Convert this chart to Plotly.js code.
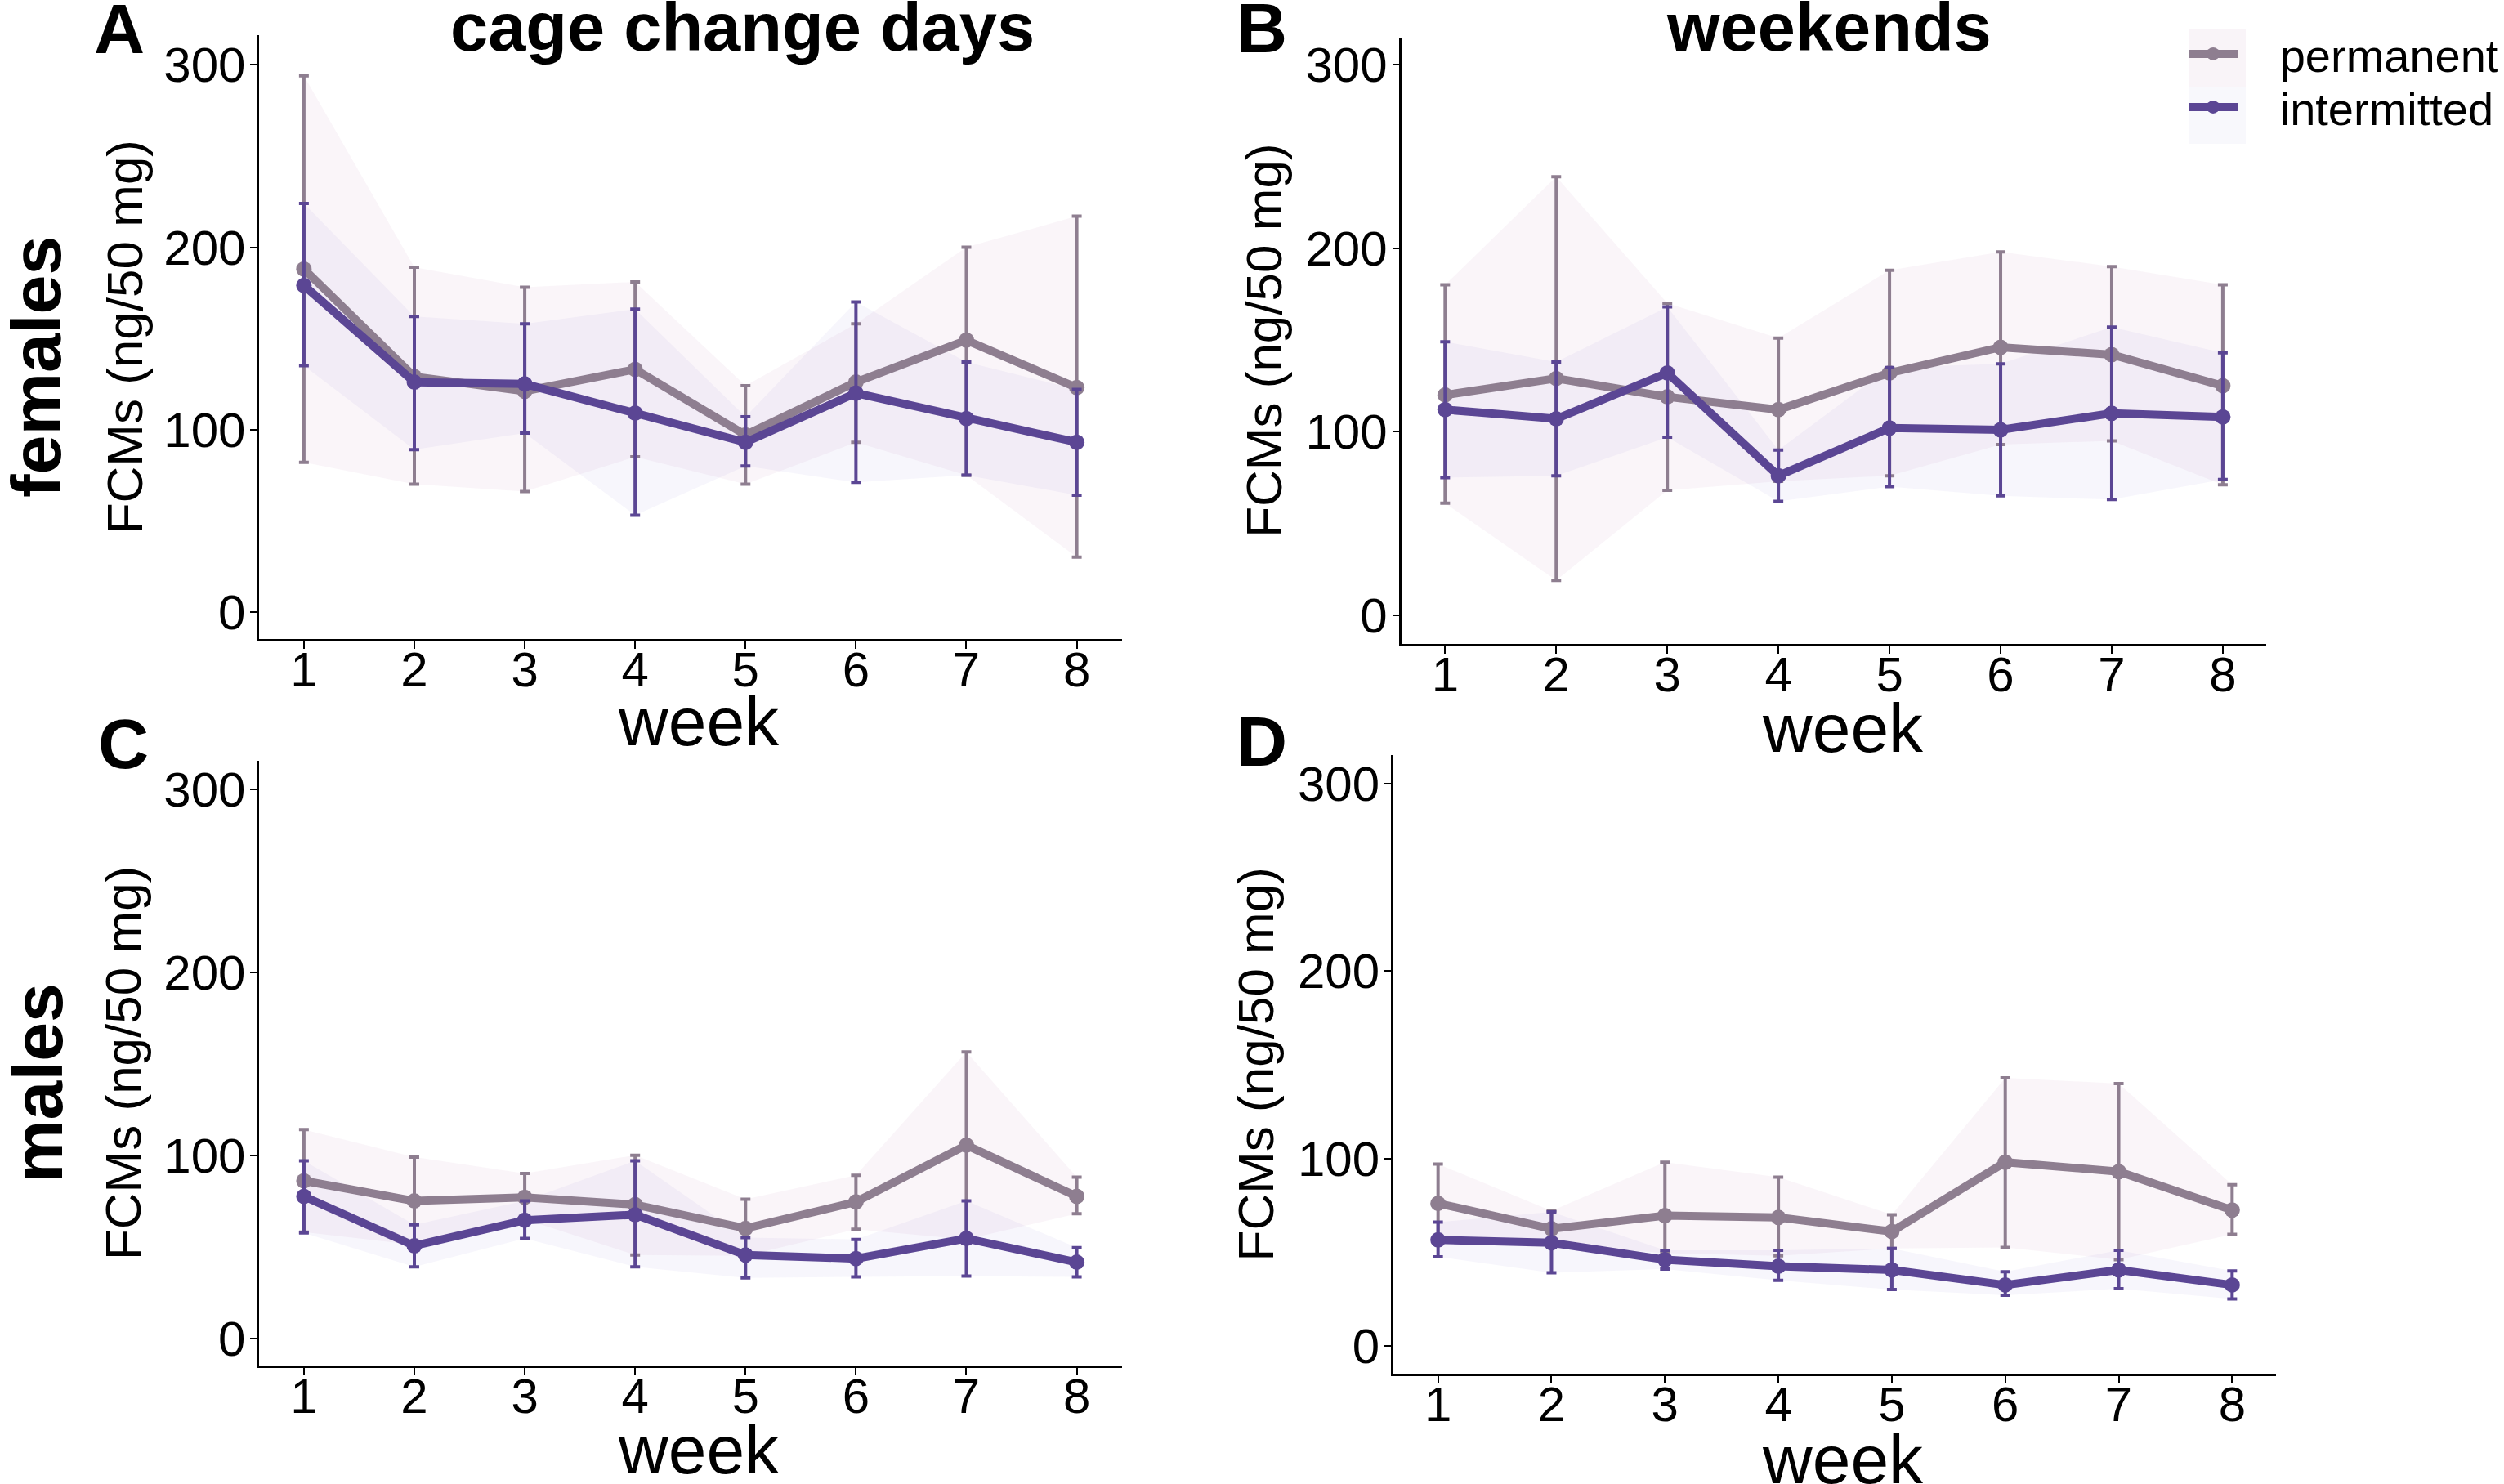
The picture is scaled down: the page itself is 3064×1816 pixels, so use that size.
<!DOCTYPE html>
<html>
<head>
<meta charset="utf-8">
<script src="https://cdn.plot.ly/plotly-3.0.1.min.js"></script>
<style>
  html, body { margin: 0; padding: 0; background: #ffffff; }
  #chart { width: 3064px; height: 1816px; }
</style>
</head>
<body>
<div id="chart"></div>
<script>
// ---------------- data ----------------
const weeks = [1, 2, 3, 4, 5, 6, 7, 8];
const seriesNames = ["permanent", "intermitted"];
const yTickVals = [0, 100, 200, 300];

// A: females, cage change days
const fCagePermMean  = [188, 129, 121, 133, 97, 126, 149, 123];
const fCagePermUpper = [294, 189, 178, 181, 124, 158, 200, 217];
const fCagePermLower = [82, 70, 66, 85, 70, 93, 75, 30];
const fCageIntMean   = [179, 126, 125, 109, 93, 120, 106, 93];
const fCageIntUpper  = [224, 162, 158, 166, 107, 170, 137, 122];
const fCageIntLower  = [135, 89, 98, 53, 80, 71, 75, 64];

// B: females, weekends
const fWkPermMean  = [120, 129, 119, 112, 132, 146, 142, 125];
const fWkPermUpper = [180, 239, 170, 151, 188, 198, 190, 180];
const fWkPermLower = [61, 19, 68, 73, 76, 93, 95, 71];
const fWkIntMean   = [112, 107, 132, 76, 102, 101, 110, 108];
const fWkIntUpper  = [149, 138, 168, 90, 135, 137, 157, 143];
const fWkIntLower  = [75, 76, 97, 62, 70, 65, 63, 74];

// C: males, cage change days
const mCagePermMean  = [86, 75, 77, 73, 60, 74.5, 105.5, 77.5];
const mCagePermUpper = [114, 99, 90, 100, 76, 89, 156.5, 88];
const mCagePermLower = [58, 51, 65, 45.5, 45, 59.5, 54, 68];
const mCageIntMean   = [77.5, 50.5, 64.5, 67.5, 45.5, 43.5, 54.5, 41.5];
const mCageIntUpper  = [97, 62, 75, 97, 55, 54, 75, 49.5];
const mCageIntLower  = [57.5, 39, 54.5, 39, 33, 33.5, 34, 33.5];

// D: males, weekends
const mWkPermMean  = [76, 62.5, 69.5, 68.5, 61, 98, 93, 72.5];
const mWkPermUpper = [97, 72, 98, 90, 70, 143, 140, 86];
const mWkPermLower = [59, 54, 49.5, 48, 52, 52.5, 46, 59.5];
const mWkIntMean   = [56.5, 55, 46, 42.5, 40.5, 32.5, 40.5, 32.5];
const mWkIntUpper  = [66, 71.5, 51, 51, 52, 39.5, 51, 40];
const mWkIntLower  = [47.5, 39, 41, 35, 30, 27, 30.5, 25];

// ---------------- styles ----------------
const permColor = "#8E7E90";
const intColor  = "#5B4694";
const permFill  = "rgba(200,140,185,0.09)";
const intFill   = "rgba(110,90,200,0.055)";
const FONT = "Liberation Sans, Arial, sans-serif";
const PAD = "\u00A0\u00A0\u00A0";

const panels = [
  { xa: "x",  ya: "y",  perm: [fCagePermMean, fCagePermUpper, fCagePermLower], int: [fCageIntMean, fCageIntUpper, fCageIntLower], legend: true },
  { xa: "x2", ya: "y2", perm: [fWkPermMean, fWkPermUpper, fWkPermLower],       int: [fWkIntMean, fWkIntUpper, fWkIntLower] },
  { xa: "x3", ya: "y3", perm: [mCagePermMean, mCagePermUpper, mCagePermLower], int: [mCageIntMean, mCageIntUpper, mCageIntLower] },
  { xa: "x4", ya: "y4", perm: [mWkPermMean, mWkPermUpper, mWkPermLower],       int: [mWkIntMean, mWkIntUpper, mWkIntLower] }
];

function ribbon(p, s, fill) {
  const [mean, up, lo] = s;
  return {
    x: weeks.concat(weeks.slice().reverse()),
    y: up.concat(lo.slice().reverse()),
    xaxis: p.xa, yaxis: p.ya,
    type: "scatter", mode: "lines", fill: "toself",
    fillcolor: fill, line: { width: 0, color: "rgba(0,0,0,0)" },
    hoverinfo: "skip", showlegend: false
  };
}
function series(p, s, color, name, showLeg, legendId) {
  const [mean, up, lo] = s;
  return {
    x: weeks, y: mean, xaxis: p.xa, yaxis: p.ya,
    type: "scatter", mode: "lines+markers", name: PAD + name,
    line: { color: color, width: 10 },
    marker: { color: color, size: 19 },
    error_y: {
      type: "data", symmetric: false,
      array: up.map((v, i) => v - mean[i]),
      arrayminus: lo.map((v, i) => mean[i] - v),
      color: color, thickness: 4, width: 6
    },
    showlegend: !!showLeg, legend: legendId
  };
}

const traces = [];
panels.forEach(p => {
  traces.push(ribbon(p, p.perm, permFill));
  traces.push(ribbon(p, p.int, intFill));
});
panels.forEach(p => {
  traces.push(series(p, p.perm, permColor, seriesNames[0], p.legend, "legend"));
  traces.push(series(p, p.int, intColor, seriesNames[1], p.legend, "legend2"));
});

function xAxis(domain, range, anchor) {
  return {
    domain: domain, range: range, anchor: anchor,
    tickmode: "array", tickvals: weeks, ticktext: weeks.map(String),
    showline: true, linecolor: "#000", linewidth: 3,
    ticks: "outside", ticklen: 9, tickwidth: 2, tickcolor: "#000",
    ticklabelstandoff: -26,
    tickfont: { family: FONT, size: 60, color: "#000" },
    showgrid: false, zeroline: false
  };
}
function yAxis(domain, range, anchor) {
  return {
    domain: domain, range: range, anchor: anchor,
    tickmode: "array", tickvals: yTickVals, ticktext: yTickVals.map(String),
    showline: true, linecolor: "#000", linewidth: 3,
    ticks: "outside", ticklen: 8, tickwidth: 2, tickcolor: "#000",
    ticklabelstandoff: -6,
    tickfont: { family: FONT, size: 60, color: "#000" },
    showgrid: false, zeroline: false
  };
}

function ann(text, x, y, size, bold, angle) {
  return {
    text: bold ? "<b>" + text + "</b>" : text,
    x: x, y: y, xref: "paper", yref: "paper",
    xanchor: "center", yanchor: "middle", showarrow: false,
    textangle: angle || 0,
    font: { family: FONT, size: size, color: "#000" }
  };
}

const yTitle = "FCMs (ng/50 mg)";
const annotations = [
  ann("A", 0.0475, 0.9805, 86, true),
  ann("B", 0.5039, 0.9815, 86, true),
  ann("C", 0.0493, 0.4989, 86, true),
  ann("D", 0.5039, 0.5005, 86, true),
  ann("cage change days", 0.2965, 0.9817, 83, true),
  ann("weekends", 0.7304, 0.9817, 83, true),
  ann("females", 0.0144, 0.7528, 86, true, -90),
  ann("males", 0.0150, 0.2704, 86, true, -90),
  ann(yTitle, 0.0499, 0.7729, 62, false, -90),
  ann(yTitle, 0.5049, 0.7705, 62, false, -90),
  ann(yTitle, 0.0493, 0.2836, 62, false, -90),
  ann(yTitle, 0.5013, 0.2828, 62, false, -90),
  ann("week", 0.2790, 0.5140, 84, false),
  ann("week", 0.7360, 0.5094, 84, false),
  ann("week", 0.2790, 0.0232, 84, false),
  ann("week", 0.7360, 0.0166, 84, false)
];

function legendBox(yCenter) {
  return {
    x: 0.8724, y: yCenter, xanchor: "left", yanchor: "middle",
    bgcolor: "rgba(0,0,0,0)", borderwidth: 0,
    font: { family: FONT, size: 56, color: "#000" },
    itemwidth: 60
  };
}

const layout = {
  width: 3064, height: 1816,
  margin: { l: 0, r: 0, t: 0, b: 0 },
  paper_bgcolor: "#ffffff", plot_bgcolor: "rgba(0,0,0,0)",
  font: { family: FONT, color: "#000" },
  showlegend: true,
  legend: legendBox(1 - 66 / 1816),
  legend2: legendBox(1 - 131 / 1816),
  xaxis:  xAxis([0.1036, 0.4481], [0.597, 8.41], "y"),
  yaxis:  yAxis([0.5694, 0.9763], [-14.9, 316.3], "x"),
  xaxis2: xAxis([0.5596, 0.9050], [0.605, 8.39], "y2"),
  yaxis2: yAxis([0.5663, 0.9747], [-15.5, 314.8], "x2"),
  xaxis3: xAxis([0.1036, 0.4481], [0.597, 8.41], "y3"),
  yaxis3: yAxis([0.0798, 0.4873], [-15.0, 315.6], "x3"),
  xaxis4: xAxis([0.5565, 0.9091], [0.607, 8.39], "y4"),
  yaxis4: yAxis([0.0743, 0.4912], [-14.9, 315.3], "x4"),
  shapes: [
    { type: "rect", xref: "paper", yref: "paper", layer: "below",
      x0: 2678 / 3064, x1: 2748 / 3064, y0: 1 - 106 / 1816, y1: 1 - 35 / 1816,
      fillcolor: "#F9F4F8", line: { width: 0 } },
    { type: "rect", xref: "paper", yref: "paper", layer: "below",
      x0: 2678 / 3064, x1: 2748 / 3064, y0: 1 - 176 / 1816, y1: 1 - 106 / 1816,
      fillcolor: "#F8F8FC", line: { width: 0 } }
  ],
  annotations: annotations
};

Plotly.newPlot("chart", traces, layout, { displayModeBar: false, responsive: false });
</script>
</body>
</html>
